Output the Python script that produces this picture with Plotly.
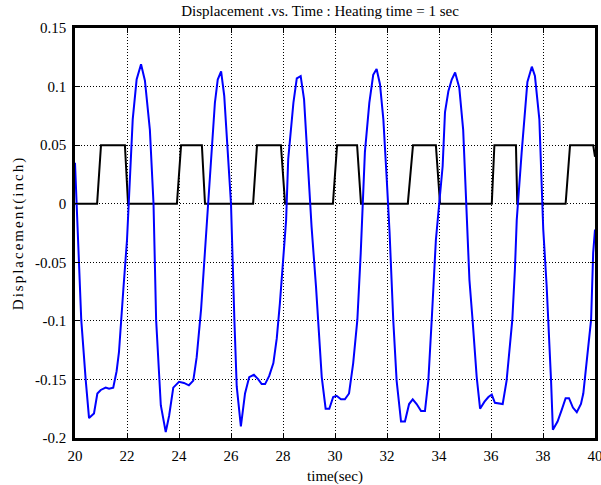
import plotly.graph_objects as go

# Displacement response (inch) sampled over time (sec)
t_disp = [
    20.00, 20.13, 20.24, 20.41, 20.54, 20.73, 20.86, 20.99, 21.18, 21.31,
    21.47, 21.60, 21.69, 21.86, 22.00, 22.22, 22.37, 22.54, 22.69, 22.88,
    23.02, 23.12, 23.30, 23.49, 23.62, 23.78, 24.00, 24.19, 24.38, 24.55,
    24.68, 24.85, 25.05, 25.26, 25.38, 25.49, 25.62, 25.74, 25.83, 26.00,
    26.13, 26.22, 26.38, 26.54, 26.70, 26.88, 27.05, 27.18, 27.31, 27.47,
    27.63, 27.76, 27.88, 28.01, 28.12, 28.20, 28.40, 28.53, 28.68, 28.81,
    28.93, 29.10, 29.27, 29.36, 29.49, 29.64, 29.78, 29.93, 30.06, 30.23,
    30.38, 30.54, 30.70, 30.86, 30.99, 31.15, 31.32, 31.47, 31.60, 31.73,
    31.86, 31.99, 32.10, 32.24, 32.37, 32.54, 32.69, 32.85, 32.99, 33.14,
    33.31, 33.46, 33.59, 33.73, 33.88, 34.14, 34.23, 34.36, 34.49, 34.62,
    34.78, 34.93, 35.10, 35.17, 35.29, 35.45, 35.58, 35.75, 35.90, 36.03,
    36.15, 36.45, 36.60, 36.71, 36.82, 36.92, 36.99, 37.18, 37.40, 37.57,
    37.69, 37.86, 38.01, 38.14, 38.21, 38.31, 38.38, 38.56, 38.72, 38.87,
    39.00, 39.15, 39.30, 39.46, 39.55, 39.68, 39.77, 39.85, 39.93, 40.00,
]
disp = [
    0.035, -0.031, -0.099, -0.150, -0.183, -0.179, -0.162, -0.159, -0.157, -0.158,
    -0.157, -0.143, -0.127, -0.073, -0.031, 0.072, 0.106, 0.119, 0.105, 0.063,
    0.000, -0.099, -0.172, -0.195, -0.181, -0.157, -0.152, -0.153, -0.155, -0.151,
    -0.131, -0.090, -0.022, 0.049, 0.086, 0.106, 0.113, 0.092, 0.063, 0.000,
    -0.099, -0.156, -0.190, -0.162, -0.148, -0.146, -0.150, -0.154, -0.154, -0.147,
    -0.136, -0.115, -0.085, -0.042, -0.014, 0.038, 0.086, 0.107, 0.109, 0.089,
    0.044, -0.020, -0.071, -0.099, -0.148, -0.175, -0.175, -0.165, -0.164, -0.167,
    -0.167, -0.162, -0.136, -0.099, -0.042, 0.044, 0.086, 0.110, 0.115, 0.102,
    0.072, 0.021, -0.025, -0.099, -0.151, -0.186, -0.186, -0.171, -0.167, -0.171,
    -0.177, -0.177, -0.151, -0.095, -0.031, 0.032, 0.078, 0.096, 0.106, 0.112,
    0.099, 0.063, -0.025, -0.065, -0.099, -0.148, -0.175, -0.169, -0.165, -0.163,
    -0.170, -0.171, -0.151, -0.127, -0.099, -0.056, -0.014, 0.044, 0.104, 0.117,
    0.109, 0.072, -0.022, -0.070, -0.099, -0.151, -0.193, -0.186, -0.176, -0.166,
    -0.166, -0.174, -0.178, -0.171, -0.162, -0.136, -0.115, -0.099, -0.042, -0.022,
]

# Heating input pulse (on = 0.05)
t_heat = [
    20.00, 20.85, 21.00, 21.92, 22.04, 23.92, 24.08, 24.88, 25.00,
    26.85, 27.00, 27.92, 28.08, 29.92, 30.08, 30.85, 31.00,
    32.80, 33.00, 33.88, 34.04, 36.03, 36.13, 36.96, 37.01,
    38.87, 39.04, 39.93, 40.00,
]
heat = [
    0.0, 0.0, 0.05, 0.05, 0.0, 0.0, 0.05, 0.05, 0.0,
    0.0, 0.05, 0.05, 0.0, 0.0, 0.05, 0.05, 0.0,
    0.0, 0.05, 0.05, 0.0, 0.0, 0.05, 0.05, 0.0,
    0.0, 0.05, 0.05, 0.04,
]

x_ticks = [20, 22, 24, 26, 28, 30, 32, 34, 36, 38, 40]
y_ticks = [-0.2, -0.15, -0.1, -0.05, 0, 0.05, 0.1, 0.15]
y_tick_text = ["-0.2", "-0.15", "-0.1", "-0.05", "0", "0.05", "0.1", "0.15"]

serif = "Liberation Serif, Times New Roman, serif"
txt_font = dict(family=serif, size=15, color="black")

fig = go.Figure()
fig.add_trace(go.Scatter(x=t_heat, y=heat, mode="lines",
                         line=dict(color="black", width=2), showlegend=False))
fig.add_trace(go.Scatter(x=t_disp, y=disp, mode="lines",
                         line=dict(color="#0000ff", width=2), showlegend=False))

axis_common = dict(
    showline=True, linecolor="black", linewidth=2.5, mirror="ticks",
    ticks="inside", ticklen=5, tickcolor="black", tickwidth=1,
    showgrid=True, gridcolor="black", gridwidth=1, griddash="1px,2px",
    zeroline=False, tickfont=txt_font, automargin=False,
    ticklabeloverflow="allow",
)

fig.update_layout(
    width=601, height=485,
    margin=dict(l=75, r=6, t=28, b=47),
    paper_bgcolor="white", plot_bgcolor="white",
    title=dict(text="Displacement .vs. Time : Heating time = 1 sec",
               font=txt_font,
               x=(320 - 75) / 520, xref="paper", xanchor="center",
               y=1 - 11 / 485, yref="container", yanchor="middle"),
    xaxis=dict(range=[20, 40], tickvals=x_ticks, ticklabelstandoff=2,
               title=dict(text="time(sec)", standoff=11, font=txt_font),
               **axis_common),
    yaxis=dict(range=[-0.2, 0.15], tickvals=y_ticks, ticktext=y_tick_text,
               ticklabelstandoff=3,
               title=dict(text='<span style="letter-spacing:2px">Displacement(inch)</span>',
                          standoff=8, font=txt_font),
               **axis_common),
)

fig.write_html("out.html")
